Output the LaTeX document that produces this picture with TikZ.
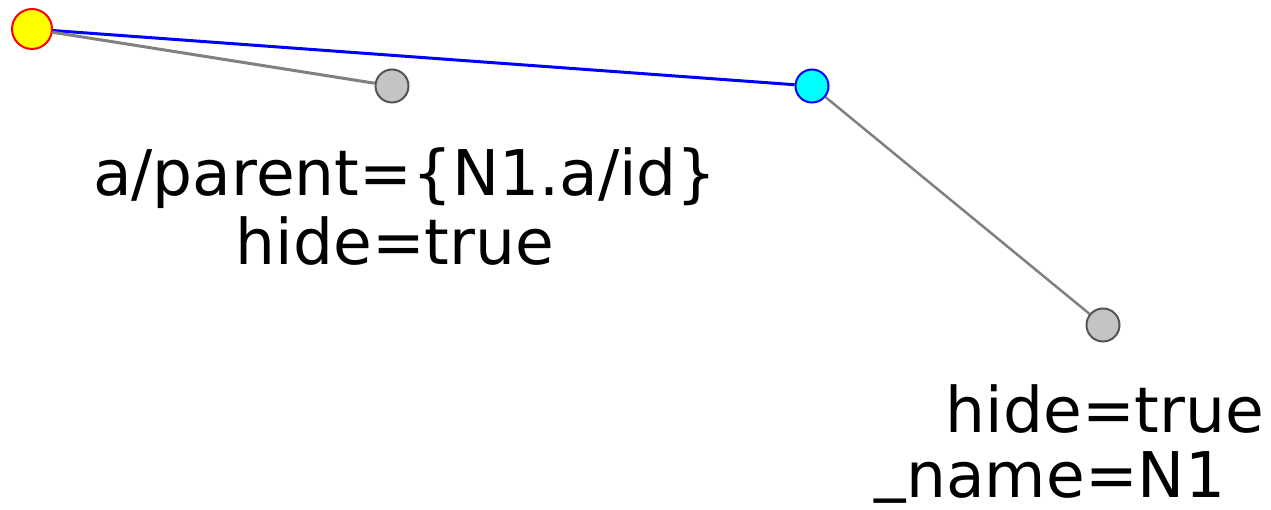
\documentclass[tikz,border=0pt]{standalone}
\usepackage{fontspec}
\setmainfont{DejaVu Sans}
\usetikzlibrary{positioning}
\definecolor{vcyan}{RGB}{0,255,255}
\definecolor{vyellow}{RGB}{255,255,0}

\begin{document}
\begin{tikzpicture}[x=1pt,y=-1pt,
  vtx/.style={draw,circle,inner sep=0pt,line width=2pt},
  lbl/.style={anchor=base,inner sep=0pt,font=\fontsize{63}{70}\selectfont}]
\useasboundingbox (0,0) rectangle (1271,510);
\node[vtx,minimum size=40pt,draw=red,fill=vyellow] (root) at (32,29) {};
\node[vtx,minimum size=33pt,draw=black!67,fill=black!23] (g1) at (392,86) {};
\node[vtx,minimum size=33pt,draw=blue,fill=vcyan] (n1) at (812,86) {};
\node[vtx,minimum size=33pt,draw=black!67,fill=black!23] (g2) at (1103,325) {};
\draw[blue,line width=3pt] (root) -- (n1);
\draw[gray,line width=3pt] (root) -- (g1);
\draw[gray,line width=2.5pt] (n1) -- (g2);
\node[lbl] (l1) at (405,196) {a/parent=\{N1.a/id\}};
\node[lbl] (l2) at (395,265) {hide=true};
\node[lbl] (l3) at (1105,432) {hide=true};
\node[lbl] (l4) at (1050,497) {\raisebox{9pt}{\_}name=N1};
\end{tikzpicture}
\end{document}
